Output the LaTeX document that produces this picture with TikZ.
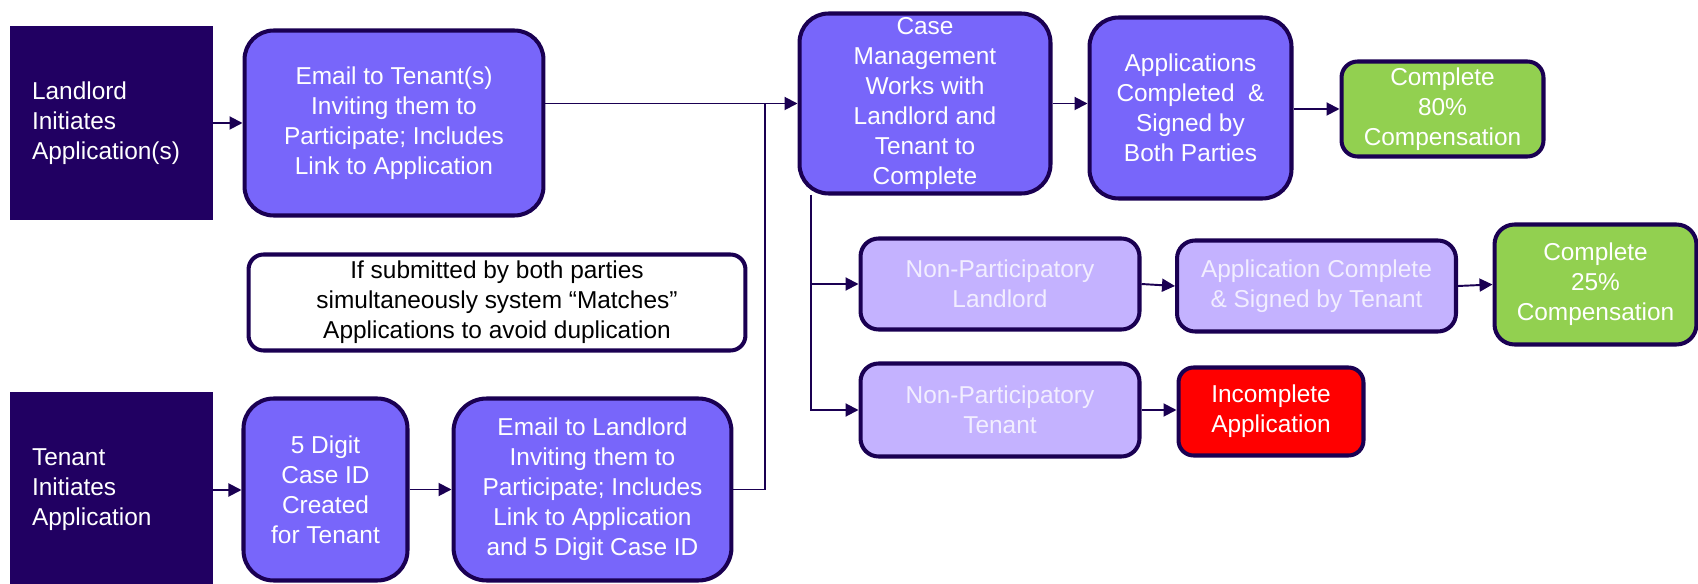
\documentclass[tikz,border=0pt]{standalone}
\usepackage{fontspec}
\setmainfont{Liberation Sans}
\usetikzlibrary{arrows.meta}
\definecolor{navy}{HTML}{210062}
\definecolor{bord}{HTML}{1A0052}
\definecolor{purp}{HTML}{7866FA}
\definecolor{lav}{HTML}{C4B2FF}
\definecolor{lavtext}{HTML}{F2EEFF}
\definecolor{grn}{HTML}{92D050}
\definecolor{redf}{HTML}{FF0000}
\newcommand\myfs{\fontsize{13.9}{17.1}\selectfont}
\tikzset{
  base/.style={draw=bord, line width=2.3pt, inner sep=0pt, align=center, font=\myfs},
  navybox/.style={fill=navy, draw=navy, line width=0.6pt, text=white, align=left, font=\myfs, inner ysep=0pt},
  purp/.style={base, fill=purp, text=white, rounded corners=0.58cm},
  lavbox/.style={base, fill=lav, text=lavtext, rounded corners=0.36cm},
  grnbox/.style={base, fill=grn, text=white, rounded corners=0.32cm},
  redbox/.style={base, fill=redf, text=white, rounded corners=0.3cm},
  notebox/.style={base, fill=white, text=black, rounded corners=0.3cm},
  conn/.style={draw=bord, line width=1.1pt},
  arr/.style={conn, -{Triangle[length=7.4pt,width=7.4pt]}}
}
\begin{document}
\begin{tikzpicture}[x=0.02cm, y=-0.02cm]
\useasboundingbox (0,0) rectangle (1698,584);
% left column
\node[navybox, text width=3.18cm, inner xsep=0.42cm, minimum height=3.84cm] (LL) at (111.5,123) {Landlord\\Initiates\\Application(s)};
\node[navybox, text width=3.18cm, inner xsep=0.42cm, minimum height=3.90cm] (TA) at (111.5,490) {Tenant\\Initiates\\Application};
% top row
\node[purp, minimum width=5.98cm, minimum height=3.70cm] (ET) at (394,123) {Email to Tenant(s)\\Inviting them to\\Participate; Includes\\Link to Application};
\node[purp, minimum width=5.02cm, minimum height=3.60cm] (CM) at (925,103.5) {Case\\Management\\Works with\\Landlord and\\Tenant to\\Complete};
\node[purp, minimum width=4.04cm, minimum height=3.62cm] (AC) at (1190.5,108) {Applications\\Completed~ \&\\Signed by\\Both Parties};
\node[grnbox, minimum width=4.04cm, minimum height=1.90cm] (C80) at (1442.5,109) {Complete\\80\%\\Compensation};
% note
\node[notebox, minimum width=9.94cm, minimum height=1.92cm] (NB) at (497,302.5) {If submitted by both parties\\simultaneously system “Matches”\\Applications to avoid duplication};
% bottom row
\node[purp, rounded corners=0.6cm, minimum width=3.28cm, minimum height=3.64cm] (FD) at (325.5,489.5) {5 Digit\\Case ID\\Created\\for Tenant};
\node[purp, rounded corners=0.66cm, minimum width=5.56cm, minimum height=3.64cm] (EL) at (592.5,489.5) {Email to Landlord\\Inviting them to\\Participate; Includes\\Link to Application\\and 5 Digit Case ID};
% branches
\node[lavbox, minimum width=5.58cm, minimum height=1.82cm] (NPL) at (1000,284) {Non-Participatory\\Landlord};
\node[lavbox, minimum width=5.58cm, minimum height=1.82cm] (ACT) at (1316.5,286) {Application Complete\\\& Signed by Tenant};
\node[grnbox, rounded corners=0.4cm, minimum width=4.04cm, minimum height=2.40cm] (C25) at (1595.5,284.5) {Complete\\25\%\\Compensation};
\node[lavbox, minimum width=5.58cm, minimum height=1.86cm] (NPT) at (1000,410) {Non-Participatory\\Tenant};
\node[redbox, minimum width=3.70cm, minimum height=1.76cm] (INC) at (1271,411.5) {Incomplete\\Application};
% connectors
\coordinate (J) at (765,103.5);
\coordinate (B) at (811,195);
\draw[arr] (LL.east) -- (ET.west);
\draw[arr] (CM.west -| ET.east) -- (CM.west);
\draw[conn] (EL.east) -| (J);
\draw[arr] (CM.east) -- (CM.east -| AC.west);
\draw[arr] (C80.west -| AC.east) -- (C80.west);
\draw[arr] (B) |- (NPL.west);
\draw[arr] (B) |- (NPT.west);
\draw[arr] (NPL.east) -- (ACT.west);
\draw[arr] (ACT.east) -- (C25.west);
\draw[arr] (NPT.east) -- (NPT.east -| INC.west);
\draw[arr] (TA.east) -- (TA.east -| FD.west);
\draw[arr] (FD.east) -- (EL.west);
\end{tikzpicture}
\end{document}
